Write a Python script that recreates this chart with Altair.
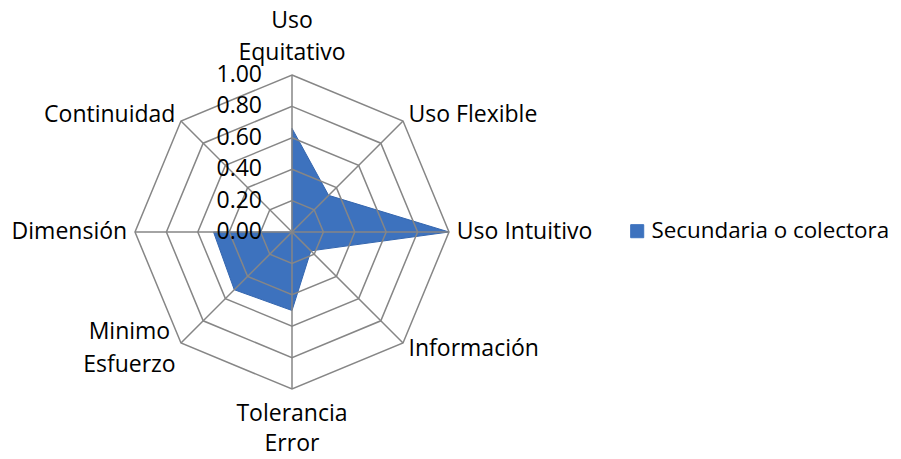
import math
import altair as alt
import pandas as pd

# ---- data ----
categories = ["Uso\nEquitativo", "Uso Flexible", "Uso Intuitivo", "Información",
              "Tolerancia\nError", "Minimo\nEsfuerzo", "Dimensión", "Continuidad"]
values = [0.66, 0.33, 1.00, 0.17, 0.50, 0.52, 0.50, 0.00]
levels = [0.2, 0.4, 0.6, 0.8, 1.0]
tick_values = [0.0, 0.2, 0.4, 0.6, 0.8, 1.0]
tick_labels = ["0.00", "0.20", "0.40", "0.60", "0.80", "1.00"]
series_name = "Secundaria o colectora"

N = len(categories)
FONT = "Open Sans"
FS = 23
GRID = "#868686"
FILL = "#3D72BE"
EDGE = "#3566AE"

cat_df = pd.DataFrame({"cat": categories, "idx": list(range(N)), "val": values,
                       "serie": [series_name] * N})
ring_df = pd.DataFrame([{"level": lv, "idx": i} for lv in levels for i in range(N)])
tick_df = pd.DataFrame({"v": tick_values, "lab": tick_labels})

ang = f"datum.idx * 2 * PI / {N}"
xs = alt.Scale(domain=[-1, 1], nice=False, zero=False)
ys = alt.Scale(domain=[-1, 1], nice=False, zero=False)

def X(f):
    return alt.X(f, type="quantitative", scale=xs, axis=None)

def Y(f):
    return alt.Y(f, type="quantitative", scale=ys, axis=None)

rings = alt.Chart(ring_df).transform_calculate(
    x=f"datum.level * sin({ang})", y=f"datum.level * cos({ang})"
).mark_line(interpolate="linear-closed", color=GRID, strokeWidth=1.5).encode(
    x=X("x"), y=Y("y"), detail="level:N", order="idx:Q"
)

spokes = alt.Chart(cat_df).transform_calculate(
    x0="0", y0="0", x=f"sin({ang})", y=f"cos({ang})"
).mark_rule(color=GRID, strokeWidth=1.5).encode(
    x=X("x0"), y=Y("y0"), x2="x:Q", y2="y:Q"
)

poly = alt.Chart(cat_df).transform_calculate(
    x=f"datum.val * sin({ang})", y=f"datum.val * cos({ang})"
).mark_line(interpolate="linear-closed", fill=FILL, fillOpacity=1,
            stroke=EDGE, strokeWidth=1).encode(
    x=X("x"), y=Y("y"), order="idx:Q",
    color=alt.Color("serie:N", scale=alt.Scale(range=[FILL]),
                    legend=alt.Legend(orient="none", legendX=491, legendY=145,
                                      title=None, symbolType="square", symbolSize=170,
                                      symbolFillColor=FILL, symbolStrokeColor=EDGE,
                                      symbolStrokeWidth=1,
                                      labelFont=FONT, labelFontSize=22.4, labelColor="black",
                                      labelLimit=400, labelOffset=3))
)

ticks = alt.Chart(tick_df).transform_calculate(x0="0").mark_text(
    align="right", baseline="middle", dx=-30, font=FONT, fontSize=FS, color="black"
).encode(x=X("x0"), y=Y("v"), text="lab:N")

lab_base = alt.Chart(cat_df).transform_calculate(
    x=f"1.05 * sin({ang})", y=f"1.05 * cos({ang})"
)

def labels(filt, lh=32, **kw):
    return lab_base.transform_filter(filt).mark_text(
        baseline="middle", font=FONT, fontSize=FS, color="black",
        lineBreak="\n", lineHeight=lh, **kw
    ).encode(x=X("x"), y=Y("y"), text="cat:N")

lab_right = labels("datum.idx >= 1 && datum.idx <= 3", align="left")
lab_left = labels("datum.idx >= 6", align="right")
lab_top = labels("datum.idx == 0", align="center", dy=-46)
lab_bottom = labels("datum.idx == 4", lh=30, align="center", dy=17)
lab_sw = labels("datum.idx == 5", lh=33, align="center", dx=-46, dy=-17)

chart = alt.layer(
    poly, rings, spokes, ticks, lab_right, lab_left, lab_top, lab_bottom, lab_sw
).properties(
    width=314, height=314,
    autosize=alt.AutoSizeParams(type="none"),
    padding={"left": 127, "top": 67, "right": 444, "bottom": 62},
).configure(background="white").configure_view(stroke=None)

chart.save("out.html", embed_options={"renderer": "svg", "actions": False})
